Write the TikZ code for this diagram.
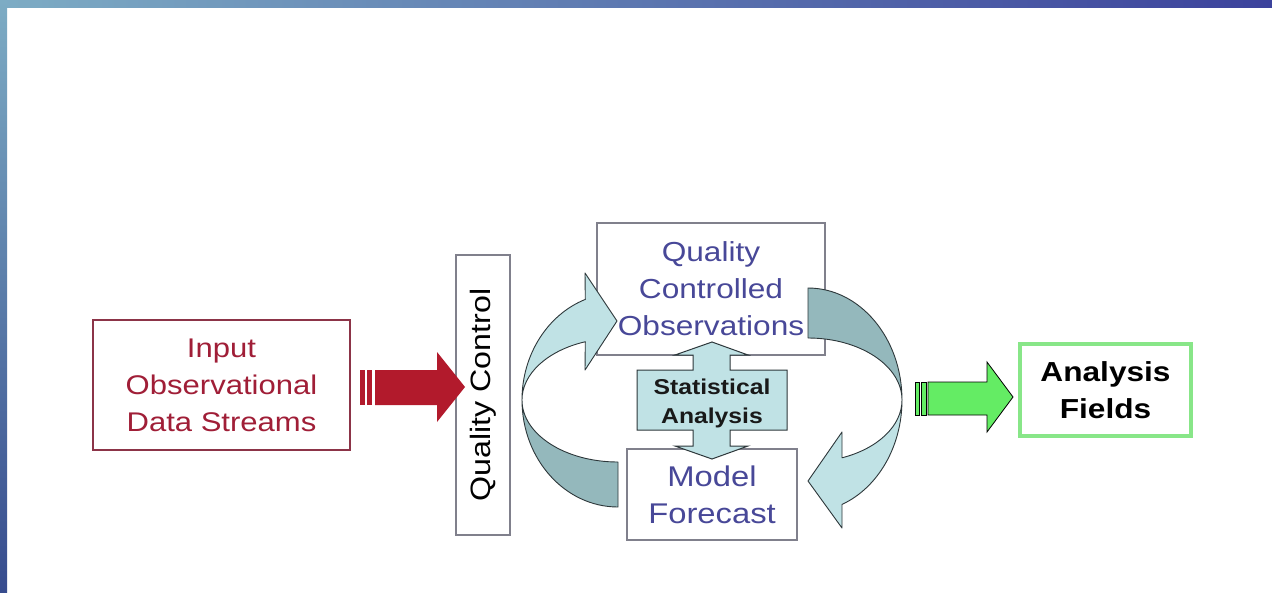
\documentclass[tikz,border=0pt]{standalone}
\usepackage{fontspec}
\setmainfont{Liberation Sans}[FakeStretch=1.15]
\definecolor{bandL}{RGB}{125,172,196}
\definecolor{bandR}{RGB}{60,66,156}
\definecolor{bandB}{RGB}{55,76,142}
\definecolor{inred}{RGB}{160,30,55}
\definecolor{inborder}{RGB}{140,52,72}
\definecolor{arrred}{RGB}{178,26,44}
\definecolor{qcblue}{RGB}{72,72,152}
\definecolor{boxgray}{RGB}{128,128,140}
\definecolor{lightteal}{RGB}{192,226,229}
\definecolor{darkteal}{RGB}{148,184,188}
\definecolor{outl}{RGB}{45,55,58}
\definecolor{agreen}{RGB}{100,236,100}
\definecolor{fgreen}{RGB}{136,230,136}
\tikzset{
  txt/.style={inner sep=0pt, align=center},
  inbox/.style={draw=inborder, line width=1.5pt, fill=white, inner sep=0pt, align=center,
     text=inred, font=\fontsize{27}{37}\selectfont},
  graybox/.style={draw=boxgray, line width=1.2pt, fill=white, inner sep=0pt, align=center,
     text=qcblue, font=\fontsize{27.5}{37}\selectfont},
  greenbox/.style={draw=fgreen, line width=4pt, fill=white, inner sep=0pt, align=center,
     font=\bfseries\fontsize{27.5}{37}\selectfont},
  lightband/.style={fill=lightteal, draw=outl, line width=0.9pt, line join=round},
  darkband/.style={fill=darkteal, draw=outl, line width=0.9pt, line join=round},
}
\begin{document}
\begin{tikzpicture}[x=1pt,y=-1pt]
\useasboundingbox (0,0) rectangle (1272,592);
\fill[white] (0,0) rectangle (1272,592);
% frame bands
\shade[left color=bandL, right color=bandR] (0,0) rectangle (1272,7);
\shade[top color=bandL, bottom color=bandB] (0,0) rectangle (7,592);

% boxes
\node[inbox, minimum width=257pt, minimum height=130pt] (input) at (221.5,385)
  {Input\\Observational\\Data Streams};
\node[draw=boxgray, line width=1.2pt, fill=white, inner sep=0pt, rotate=90,
      minimum width=280pt, minimum height=54pt, font=\fontsize{28}{34}\selectfont] (qc) at (483,395)
  {Quality Control};
\node[graybox, minimum width=228pt, minimum height=132pt] (qco) at (711,289)
  {Quality\\Controlled\\Observations};
\node[graybox, minimum width=170pt, minimum height=91pt, font=\fontsize{28.5}{37}\selectfont] (mf) at (712,494.5)
  {Model\\Forecast};
\node[greenbox, minimum width=171pt, minimum height=92pt] (af) at (1105.5,390)
  {Analysis\\Fields};

% red block arrow
\fill[arrred] (360,370) rectangle (365,405);
\fill[arrred] (367,370) rectangle (372,405);
\fill[arrred] (375,370) -- (437,370) -- (437,352) -- (465,387) -- (437,422) -- (437,405) -- (375,405) -- cycle;

% green block arrow
\filldraw[fill=agreen, draw=black, line width=0.8pt] (915,382) rectangle (919,415);
\filldraw[fill=agreen, draw=black, line width=0.8pt] (921,382) rectangle (926,415);
\filldraw[fill=agreen, draw=black, line width=0.8pt, line join=miter]
  (928,382) -- (987,382) -- (987,362) -- (1013,397) -- (987,432) -- (987,415) -- (928,415) -- cycle;

% left curved arrow
\path[darkband] (522,400) arc[start angle=180, end angle=90, x radius=96, y radius=107]
  -- (618,462) arc[start angle=90, end angle=180, x radius=96, y radius=62] -- cycle;
\path[lightband] (585.3,299.4) arc[start angle=250.1, end angle=180, x radius=96, y radius=107]
  arc[start angle=180, end angle=250.1, x radius=96, y radius=62]
  -- (585,370) -- (617,321) -- (585,273) -- cycle;

% right curved arrow
\path[darkband] (808,288) arc[start angle=270, end angle=360, x radius=94, y radius=112]
  arc[start angle=0, end angle=-90, x radius=94, y radius=62] -- cycle;
\path[lightband] (902,400) arc[start angle=0, end angle=68.8, x radius=94, y radius=112]
  -- (842,528) -- (808,481) -- (842,432) -- (842,457.8)
  arc[start angle=68.8, end angle=0, x radius=94, y radius=62] -- cycle;

% statistical analysis double arrow
\path[lightband, line width=1pt, line join=miter]
  (712,342) -- (748,355) -- (730,355) -- (730,370) -- (787,370) -- (787,430) -- (730,430)
  -- (730,446) -- (748,446) -- (712,459) -- (675,446) -- (693,446) -- (693,430)
  -- (637,430) -- (637,370) -- (693,370) -- (693,355) -- (675,355) -- cycle;
\node[txt, font=\bfseries\fontsize{21.5}{29}\selectfont, text=black!90] (stat) at (712,403)
  {Statistical\\Analysis};
\end{tikzpicture}
\end{document}
